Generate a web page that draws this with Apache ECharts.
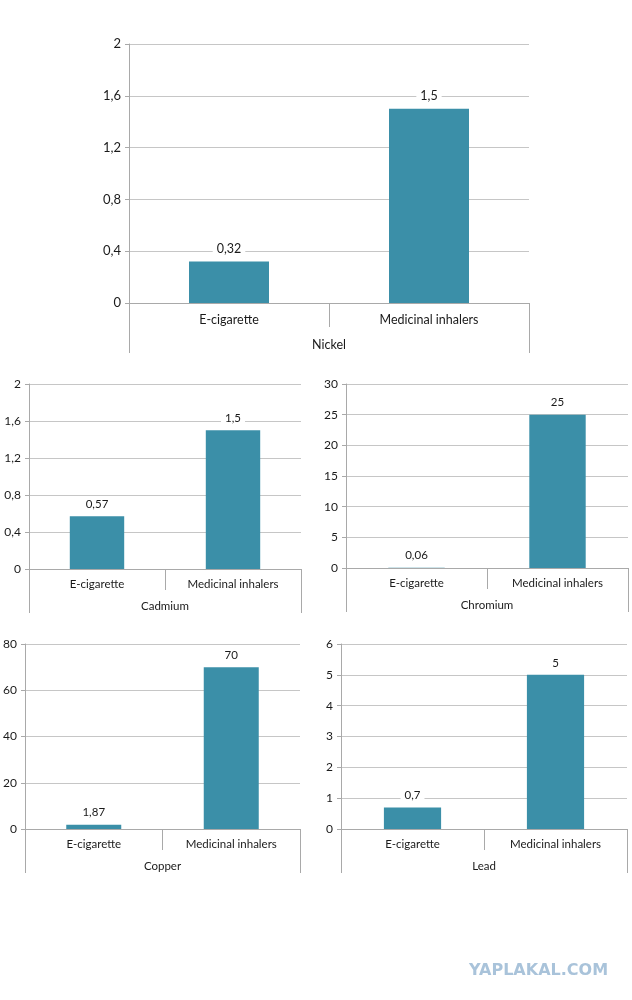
<!DOCTYPE html>
<html>
<head>
<meta charset="utf-8">
<script src="https://cdn.jsdelivr.net/npm/echarts@6/dist/echarts.min.js"></script>
<style>
html,body{margin:0;padding:0;background:#fff;}
#c{width:632px;height:1000px;}
</style>
</head>
<body>
<div id="c"></div>
<script>
const categories = ['E-cigarette', 'Medicinal inhalers'];
const metals = ['Nickel', 'Cadmium', 'Chromium', 'Copper', 'Lead'];
const nickel = [0.32, 1.5];
const cadmium = [0.57, 1.5];
const chromium = [0.06, 25];
const copper = [1.87, 70];
const lead = [0.7, 5];
const yMax = [2, 2, 30, 80, 6];
const yStep = [0.4, 0.4, 5, 20, 1];
const watermark = 'YAPLAKAL.COM';

const values = [nickel, cadmium, chromium, copper, lead];
const layout = [
  {left: 129, top: 44, width: 400, height: 259, tick: 24, group: 50, catMargin: 10, grpMargin: 35, fs: 12.5},
  {left: 29, top: 384, width: 272, height: 185, tick: 21, group: 44, catMargin: 9, grpMargin: 31, fs: 11.5},
  {left: 346, top: 384, width: 282, height: 184, tick: 21, group: 44, catMargin: 9, grpMargin: 31, fs: 11.5},
  {left: 25, top: 644, width: 275, height: 185, tick: 21, group: 44, catMargin: 9, grpMargin: 31, fs: 11.5},
  {left: 341, top: 644, width: 286, height: 185, tick: 21, group: 44, catMargin: 9, grpMargin: 31, fs: 11.5}
];
const FONT = 'Lato';
const TXT = '#1a1a1a';
const AX = '#a9a9a9';
const fmt = v => String(+(+v).toFixed(2)).replace('.', ',');

const grid = [], xAxis = [], yAxis = [], series = [];
layout.forEach((L, i) => {
  grid.push({left: L.left, top: L.top, width: L.width, height: L.height, containLabel: false});
  xAxis.push({
    type: 'category', gridIndex: i, data: categories, position: 'bottom',
    axisLine: {show: true, lineStyle: {color: AX, width: 1}},
    axisTick: {show: true, interval: 0, length: L.tick, lineStyle: {color: AX}},
    axisLabel: {interval: 0, margin: L.catMargin, color: TXT, fontSize: L.fs, fontFamily: FONT},
    splitLine: {show: false}
  });
  xAxis.push({
    type: 'category', gridIndex: i, data: [metals[i]], position: 'bottom',
    axisLine: {show: false},
    axisTick: {show: true, interval: 0, length: L.group, lineStyle: {color: AX}},
    axisLabel: {interval: 0, margin: L.grpMargin, color: TXT, fontSize: L.fs, fontFamily: FONT},
    splitLine: {show: false}
  });
  yAxis.push({
    type: 'value', gridIndex: i, min: 0, max: yMax[i], interval: yStep[i],
    axisLine: {show: true, lineStyle: {color: AX, width: 1}},
    axisTick: {show: true, length: 4, lineStyle: {color: AX}},
    axisLabel: {margin: 8, color: TXT, fontSize: L.fs + 0.5, fontFamily: FONT, formatter: fmt},
    splitLine: {show: true, lineStyle: {color: '#c6c6c6', width: 1}}
  });
  series.push({
    type: 'bar', xAxisIndex: i * 2, yAxisIndex: i, data: values[i],
    barWidth: '40%',
    itemStyle: {color: '#3b8fa8'},
    label: {
      show: true, position: 'top', distance: 5, color: TXT, fontSize: L.fs, fontFamily: FONT,
      backgroundColor: '#fff', padding: [1, 4], formatter: p => fmt(p.value)
    }
  });
});

const chart = echarts.init(document.getElementById('c'), null, {renderer: 'canvas'});
chart.setOption({
  animation: false,
  backgroundColor: '#fff',
  grid, xAxis, yAxis, series,
  graphic: [{
    type: 'text', left: 469, top: 963,
    style: {text: watermark, fill: '#a9c3da', font: '900 16px "DejaVu Sans"'}
  }]
});
</script>
</body>
</html>
